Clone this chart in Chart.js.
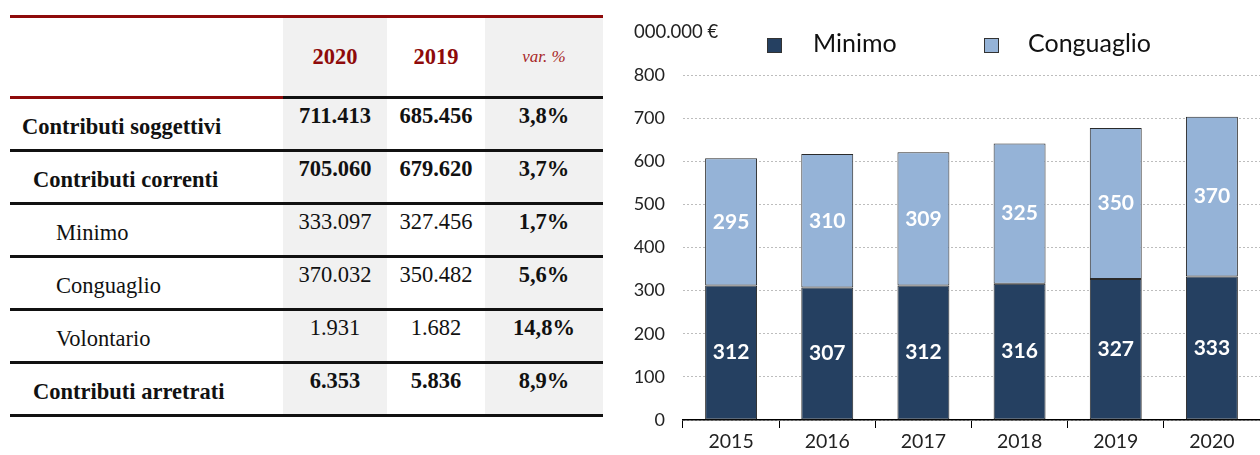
<!DOCTYPE html>
<html lang="it">
<head>
<meta charset="utf-8">
<title>Contributi soggettivi</title>
<script src="https://cdn.jsdelivr.net/npm/chart.js@4"></script>
<style>
  body { margin: 0; background: #fff; width: 1260px; height: 455px; overflow: hidden; }
  #tab { position: absolute; left: 10px; top: 15px; border-collapse: collapse; table-layout: fixed;
         font-family: "Liberation Serif", serif; font-size: 22.5px; color: #111; }
  #tab td, #tab th { padding: 0; }
  #tab th { height: 78px; font-weight: bold; color: #8e0a0a; text-align: center; vertical-align: middle; }
  #tab th.var { font-weight: normal; font-style: italic; font-size: 17px; color: #a82828; }
  #tab thead tr { border-top: 3px solid #8e0a0a; }
  #tab thead th { border-bottom: 3px solid #111; }
  #tab thead th.first { border-bottom-color: #8e0a0a; }
  #tab tbody tr { height: 53px; border-bottom: 3px solid #111; }
  #tab tbody tr:last-child td.lbl { border-bottom: 2px solid #888; }
  #tab td.lbl { vertical-align: middle; padding-top: 6px; }
  #tab td.num { text-align: center; vertical-align: top; padding-top: 4px; }
  #tab .grey { background: #f1f1f1; }
  #tab .b { font-weight: bold; }
  #chartBox { position: absolute; left: 620px; top: 0; width: 640px; height: 455px; }
</style>
</head>
<body>
<table id="tab">
  <colgroup><col style="width:273px"><col style="width:104px"><col style="width:98px"><col style="width:118px"></colgroup>
  <thead><tr><th class="first"></th><th class="grey">2020</th><th>2019</th><th class="grey var">var. %</th></tr></thead>
  <tbody id="tabBody"></tbody>
</table>
<div id="chartBox"><canvas id="contribChart"></canvas></div>
<script>
// table rows
const rowLabels = ['Contributi soggettivi', 'Contributi correnti', 'Minimo', 'Conguaglio', 'Volontario', 'Contributi arretrati'];
const rowLevel = [0, 1, 2, 2, 2, 1];
const values2020 = ['711.413', '705.060', '333.097', '370.032', '1.931', '6.353'];
const values2019 = ['685.456', '679.620', '327.456', '350.482', '1.682', '5.836'];
const varPct = ['3,8%', '3,7%', '1,7%', '5,6%', '14,8%', '8,9%'];

// chart series (milioni di euro)
const years = ['2015', '2016', '2017', '2018', '2019', '2020'];
const minimo = [312, 307, 312, 316, 327, 333];
const conguaglio = [295, 310, 309, 325, 350, 370];

const indent = [12, 23, 46];
const tbody = document.getElementById('tabBody');
rowLabels.forEach((label, i) => {
  const bold = rowLevel[i] < 2 ? ' b' : '';
  const tr = document.createElement('tr');
  tr.innerHTML =
    `<td class="lbl${bold}" style="padding-left:${indent[rowLevel[i]]}px">${label}</td>` +
    `<td class="num grey${bold}">${values2020[i]}</td>` +
    `<td class="num${bold}">${values2019[i]}</td>` +
    `<td class="num grey b">${varPct[i]}</td>`;
  tbody.appendChild(tr);
});

const FONT = 'Lato, "Open Sans", sans-serif';

// value labels, unit caption and legend
const overlay = {
  id: 'overlay',
  afterDatasetsDraw(chart) {
    const ctx = chart.ctx;
    ctx.save();
    ctx.fillStyle = '#fff';
    ctx.font = 'bold 21px ' + FONT;
    ctx.textAlign = 'center';
    ctx.textBaseline = 'middle';
    chart.data.datasets.forEach((ds, di) => {
      chart.getDatasetMeta(di).data.forEach((bar, i) => {
        ctx.fillText(ds.data[i], bar.x, (bar.y + bar.base) / 2);
      });
    });
    ctx.restore();
  },
  afterDraw(chart) {
    const ctx = chart.ctx;
    ctx.save();
    ctx.fillStyle = '#222';
    ctx.textBaseline = 'middle';
    ctx.font = '18.5px ' + FONT;
    ctx.fillText('000.000 €', 14, 32);
    const items = [[147, 193], [364, 408]];
    ctx.font = '25px ' + FONT;
    chart.data.datasets.forEach((ds, di) => {
      const [bx, tx] = items[di];
      ctx.fillStyle = ds.backgroundColor;
      ctx.fillRect(bx, 38, 15, 15);
      ctx.strokeStyle = '#333';
      ctx.lineWidth = 1;
      ctx.strokeRect(bx + 0.5, 38.5, 14, 14);
      ctx.fillStyle = '#111';
      ctx.fillText(ds.label, tx, 44);
    });
    ctx.restore();
  }
};

new Chart(document.getElementById('contribChart'), {
  type: 'bar',
  data: {
    labels: years,
    datasets: [
      { label: 'Minimo', data: minimo, backgroundColor: '#254061' },
      { label: 'Conguaglio', data: conguaglio, backgroundColor: '#95b3d7' }
    ]
  },
  options: {
    responsive: true,
    maintainAspectRatio: false,
    animation: false,
    layout: { padding: { top: 75, left: 0, right: 0, bottom: 0 } },
    datasets: {
      bar: {
        categoryPercentage: 1,
        barPercentage: 0.54,
        borderWidth: 1,
        borderColor: '#2a2a2a',
        borderSkipped: false
      }
    },
    plugins: {
      legend: { display: false },
      tooltip: { enabled: false }
    },
    scales: {
      x: {
        stacked: true,
        grid: { drawOnChartArea: false, drawTicks: true, tickLength: 8, color: '#000', offset: true },
        border: { color: '#000', width: 1.5 },
        ticks: { color: '#222', font: { family: FONT, size: 19.5 }, padding: 2 },
        afterFit: s => { s.height = 35; }
      },
      y: {
        stacked: true,
        min: 0,
        max: 800,
        grid: { drawTicks: false, color: '#bdbdbd', lineWidth: 1 },
        border: { display: false, dash: [2, 2] },
        ticks: { stepSize: 100, color: '#222', font: { family: FONT, size: 18 }, padding: 18 },
        afterFit: s => { s.width = 63; }
      }
    }
  },
  plugins: [overlay]
});
</script>
</body>
</html>
